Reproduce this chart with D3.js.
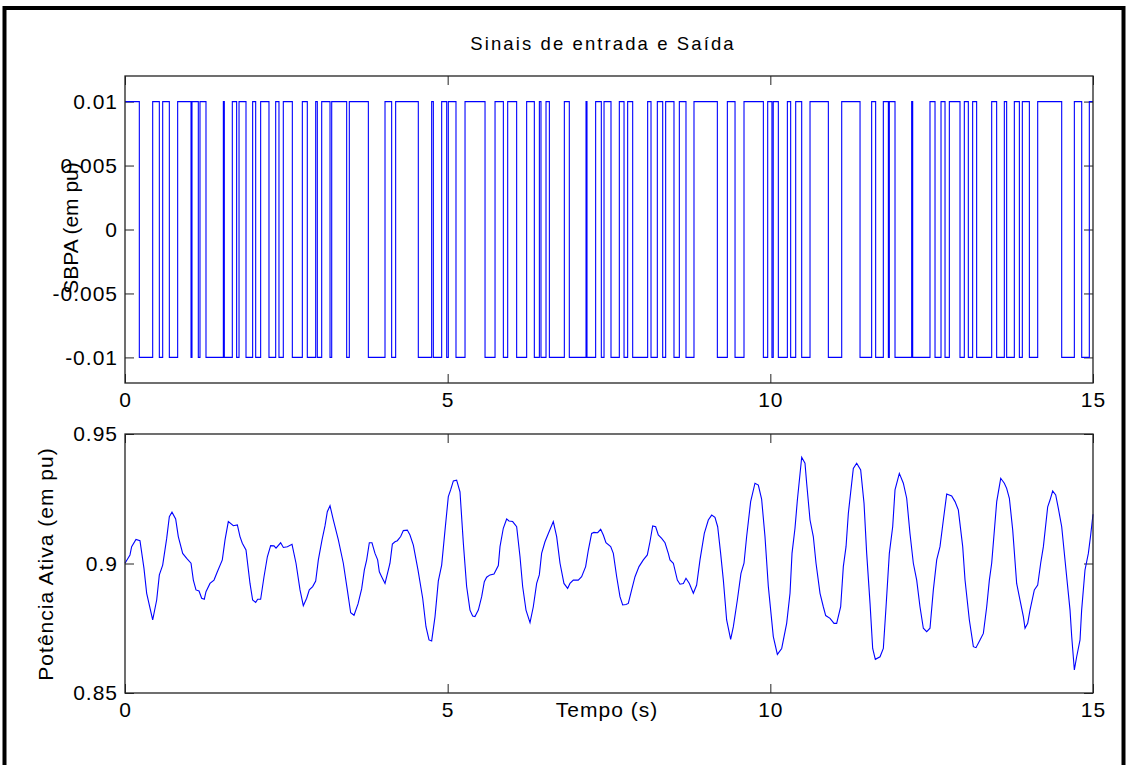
<!DOCTYPE html>
<html>
<head>
<meta charset="utf-8">
<script src="https://cdn.jsdelivr.net/npm/d3@7"></script>
<style>
	body { margin: 0; background: #fff; }
	svg { display: block; font-family: "Liberation Sans", Arial, sans-serif; }
	.tick text { font-size: 21px; fill: #000; letter-spacing: 1px; }
	.tick line { stroke: #222; }
</style>
</head>
<body>
<div id="chart"></div>
<script>

// ---- data ----
let timeTicks = [0, 5, 10, 15]
let sbpaTicks = [-0.01, -0.005, 0, 0.005, 0.01]
let potTicks = [0.85, 0.9, 0.95]

// SBPA starts at +0.01 and flips sign at each of these instants (s)
let sbpaStart = 0.01
let sbpaSwitch = [0.222, 0.429, 0.532, 0.584, 0.687, 0.816, 1.023, 1.038, 1.136, 1.162,
	1.255, 1.524, 1.539, 1.663, 1.730, 1.767, 1.875, 1.978, 2.025, 2.102,
	2.231, 2.335, 2.386, 2.453, 2.593, 2.748, 2.825, 2.955, 2.980, 3.048,
	3.177, 3.203, 3.435, 3.476, 3.771, 4.029, 4.132, 4.194, 4.545, 4.752,
	4.778, 4.907, 4.985, 5.010, 5.129, 5.269, 5.579, 5.734, 5.863, 5.930,
	6.069, 6.224, 6.343, 6.421, 6.446, 6.524, 6.576, 6.808, 6.885, 7.144,
	7.159, 7.293, 7.381, 7.423, 7.531, 7.660, 7.733, 7.789, 7.867, 8.099,
	8.151, 8.249, 8.332, 8.378, 8.507, 8.590, 8.693, 8.817, 9.179, 9.334,
	9.453, 9.592, 9.892, 9.959, 10.025, 10.045, 10.124, 10.264, 10.315, 10.393,
	10.486, 10.615, 10.899, 11.106, 11.390, 11.570, 11.632, 11.751, 11.829, 11.844,
	11.932, 12.190, 12.206, 12.474, 12.552, 12.645, 12.707, 12.774, 12.939, 13.006,
	13.068, 13.135, 13.197, 13.430, 13.507, 13.626, 13.662, 13.781, 13.859, 13.905,
	14.014, 14.143, 14.515, 14.711, 14.825, 14.943]

let potTime = [0, 0.077, 0.103, 0.170, 0.232, 0.294, 0.336, 0.429, 0.491, 0.532,
	0.584, 0.646, 0.687, 0.728, 0.785, 0.826, 0.894, 0.956, 1.023, 1.059,
	1.100, 1.147, 1.188, 1.229, 1.255, 1.317, 1.379, 1.431, 1.508, 1.550,
	1.601, 1.679, 1.741, 1.782, 1.818, 1.875, 1.937, 1.978, 2.025, 2.056,
	2.102, 2.154, 2.206, 2.257, 2.309, 2.340, 2.412, 2.454, 2.516, 2.588,
	2.650, 2.712, 2.763, 2.815, 2.856, 2.908, 2.955, 2.996, 3.053, 3.099,
	3.135, 3.177, 3.228, 3.306, 3.383, 3.445, 3.497, 3.549, 3.611, 3.667,
	3.709, 3.745, 3.786, 3.827, 3.874, 3.915, 3.941, 3.977, 4.029, 4.081,
	4.106, 4.143, 4.184, 4.220, 4.272, 4.313, 4.375, 4.416, 4.468, 4.540,
	4.613, 4.664, 4.711, 4.752, 4.804, 4.855, 4.907, 4.959,
	5.010, 5.046, 5.088, 5.139, 5.191, 5.243, 5.294, 5.346, 5.387, 5.423,
	5.475, 5.527, 5.568, 5.604, 5.656, 5.718, 5.785, 5.811, 5.862, 5.914,
	5.950, 6.007, 6.069, 6.121, 6.162, 6.214, 6.276, 6.327, 6.379, 6.420,
	6.456, 6.508, 6.560, 6.637, 6.689, 6.741, 6.802, 6.859, 6.895, 6.947,
	7.024, 7.076, 7.138, 7.180, 7.231, 7.267, 7.324, 7.371, 7.412, 7.453,
	7.526, 7.567, 7.619, 7.670, 7.712, 7.763, 7.799, 7.851, 7.903, 7.965,
	8.032, 8.094, 8.135, 8.177, 8.223, 8.264, 8.316, 8.368, 8.419, 8.445,
	8.497, 8.559, 8.600, 8.652, 8.693, 8.745, 8.807, 8.858, 8.910, 8.977,
	9.039, 9.091, 9.142, 9.184, 9.230, 9.272, 9.323, 9.385, 9.427, 9.489,
	9.545, 9.592, 9.633, 9.695, 9.762, 9.814, 9.865, 9.917, 9.969, 10.046,
	10.109, 10.176, 10.253, 10.305, 10.336, 10.382, 10.419, 10.486, 10.537, 10.563,
	10.615, 10.666, 10.708, 10.770, 10.821, 10.858, 10.925, 10.987, 11.028, 11.090,
	11.131, 11.173, 11.209, 11.286, 11.338, 11.400, 11.452, 11.493, 11.545, 11.586,
	11.627, 11.700, 11.751, 11.793, 11.844, 11.896, 11.932, 11.999, 12.061, 12.113,
	12.164, 12.216, 12.268, 12.319, 12.371, 12.423, 12.474, 12.526, 12.578, 12.629,
	12.681, 12.733, 12.810, 12.862, 12.913, 12.981, 13.017, 13.084, 13.146, 13.187,
	13.249, 13.301, 13.353, 13.394, 13.430, 13.508, 13.570, 13.626, 13.662, 13.704,
	13.756, 13.817, 13.869, 13.921, 13.947, 13.988, 14.024, 14.091, 14.143, 14.189,
	14.231, 14.298, 14.334, 14.375, 14.422, 14.463, 14.515, 14.592, 14.644, 14.670,
	14.711, 14.747, 14.799, 14.824, 14.876, 14.928, 14.964, 15.0]

let potValue = [0.9001, 0.9033, 0.9065, 0.9093, 0.9088, 0.8981, 0.8885, 0.8782, 0.8859, 0.8956,
	0.8994, 0.9097, 0.9181, 0.9198, 0.9172, 0.9104, 0.9039, 0.9020, 0.9001, 0.8936,
	0.8898, 0.8894, 0.8866, 0.8862, 0.8891, 0.8923, 0.8936, 0.8968, 0.9014, 0.9091,
	0.9162, 0.9146, 0.9149, 0.9104, 0.9078, 0.9052, 0.8923, 0.8859, 0.8850, 0.8862,
	0.8862, 0.8949, 0.9026, 0.9069, 0.9068, 0.9059, 0.9080, 0.9062, 0.9065, 0.9074,
	0.9001, 0.8898, 0.8837, 0.8866, 0.8898, 0.8911, 0.8932, 0.9014, 0.9091, 0.9145,
	0.9200, 0.9223, 0.9168, 0.9091, 0.9001, 0.8898, 0.8810, 0.8800, 0.8844, 0.8902,
	0.8975, 0.9014, 0.9080, 0.9080, 0.9039, 0.9014, 0.8968, 0.8949, 0.8923, 0.8975,
	0.9001, 0.9075, 0.9084, 0.9088, 0.9104, 0.9127, 0.9129, 0.9110, 0.9071, 0.8975,
	0.8866, 0.8756, 0.8705, 0.8701, 0.8795, 0.8932, 0.8994, 0.9129,
	0.9258, 0.9284, 0.9319, 0.9322, 0.9277, 0.9078, 0.8911, 0.8820, 0.8797, 0.8795,
	0.8820, 0.8872, 0.8930, 0.8947, 0.8956, 0.8959, 0.8992, 0.9065, 0.9136, 0.9172,
	0.9164, 0.9162, 0.9142, 0.9026, 0.8911, 0.8820, 0.8772, 0.8833, 0.8923, 0.8956,
	0.9039, 0.9084, 0.9116, 0.9162, 0.9104, 0.9001, 0.8923, 0.8904, 0.8923, 0.8936,
	0.8936, 0.8949, 0.8988, 0.9052, 0.9116, 0.9120, 0.9119, 0.9132, 0.9110, 0.9080,
	0.9065, 0.9039, 0.8949, 0.8872, 0.8840, 0.8842, 0.8846, 0.8898, 0.8949, 0.8988,
	0.9014, 0.9033, 0.9084, 0.9145, 0.9142, 0.9110, 0.9097, 0.9080, 0.9039, 0.9014,
	0.9001, 0.8936, 0.8920, 0.8923, 0.8943, 0.8923, 0.8885, 0.8917, 0.9014, 0.9116,
	0.9168, 0.9187, 0.9178, 0.9142, 0.9039, 0.8936, 0.8782, 0.8707, 0.8756, 0.8859,
	0.8962, 0.9001, 0.9104, 0.9239, 0.9310, 0.9303, 0.9249, 0.9104, 0.8911, 0.8718,
	0.8649, 0.8672, 0.8769, 0.8885, 0.9039, 0.9136, 0.9245, 0.9410, 0.9387, 0.9310,
	0.9168, 0.9104, 0.9001, 0.8885, 0.8833, 0.8799, 0.8788, 0.8769, 0.8769, 0.8833,
	0.8988, 0.9065, 0.9194, 0.9367, 0.9387, 0.9361, 0.9232, 0.9039, 0.8846, 0.8672,
	0.8630, 0.8640, 0.8672, 0.8833, 0.9039, 0.9142, 0.9284, 0.9348, 0.9310, 0.9252,
	0.9116, 0.9001, 0.8936, 0.8833, 0.8750, 0.8737, 0.8750, 0.8898, 0.9014, 0.9065,
	0.9168, 0.9268, 0.9261, 0.9239, 0.9207, 0.9065, 0.8936, 0.8782, 0.8679, 0.8675,
	0.8705, 0.8730, 0.8833, 0.8936, 0.9001, 0.9239, 0.9329, 0.9310, 0.9290, 0.9252,
	0.9129, 0.8923, 0.8859, 0.8795, 0.8750, 0.8769, 0.8820, 0.8898, 0.8917, 0.9001,
	0.9065, 0.9219, 0.9245, 0.9280, 0.9265, 0.9213, 0.9142, 0.8949, 0.8820, 0.8718,
	0.8589, 0.8640, 0.8705, 0.8820, 0.8975, 0.9039, 0.9110, 0.9190]


class SubPlot {

	constructor(svg, box, yDomain, yTicks, points, curve){
		this.svg = svg
		this.box = box
		this.yDomain = yDomain
		this.yTicks = yTicks
		this.points = points
		this.curve = curve
		this.initVis()
	}

	initVis(){
		let vis = this
		let b = vis.box
		vis.width = b.right - b.left
		vis.height = b.bottom - b.top

		vis.g = vis.svg.append("g")
			.attr("transform", "translate(" + b.left + "," + b.top + ")")

		vis.x = d3.scaleLinear().domain([0, 15]).range([0, vis.width])
		vis.y = d3.scaleLinear().domain(vis.yDomain).range([vis.height, 0])

		vis.g.append("rect")
			.attr("width", vis.width)
			.attr("height", vis.height)
			.attr("fill", "#fff")

		// matlab style ticks: inward, on all four sides
		let fmt = d => String(d)
		vis.g.append("g")
			.attr("transform", "translate(0," + vis.height + ")")
			.call(d3.axisBottom(vis.x).tickValues(timeTicks).tickFormat(fmt).tickSizeInner(-9).tickSizeOuter(0).tickPadding(9))
		vis.g.append("g")
			.call(d3.axisTop(vis.x).tickValues(timeTicks).tickFormat("").tickSizeInner(-9).tickSizeOuter(0))
		vis.g.append("g")
			.call(d3.axisLeft(vis.y).tickValues(vis.yTicks).tickFormat(fmt).tickSizeInner(-9).tickSizeOuter(0).tickPadding(7))
		vis.g.append("g")
			.attr("transform", "translate(" + vis.width + ",0)")
			.call(d3.axisRight(vis.y).tickValues(vis.yTicks).tickFormat("").tickSizeInner(-9).tickSizeOuter(0))
		vis.g.selectAll(".domain").remove()

		vis.line = d3.line()
			.x(d => vis.x(d[0]))
			.y(d => vis.y(d[1]))
			.curve(vis.curve)

		vis.g.append("path")
			.datum(vis.points)
			.attr("fill", "none")
			.attr("stroke", "#0000ff")
			.attr("stroke-width", 1.1)
			.attr("d", vis.line)

		vis.g.append("rect")
			.attr("width", vis.width)
			.attr("height", vis.height)
			.attr("fill", "none")
			.attr("stroke", "#222")
			.attr("stroke-width", 1.3)
	}
}

let svg = d3.select("#chart").append("svg")
	.attr("width", 1128)
	.attr("height", 765)

// figure frame
svg.append("rect")
	.attr("x", 4.5).attr("y", 8)
	.attr("width", 1119).attr("height", 900)
	.attr("fill", "none")
	.attr("stroke", "#000")
	.attr("stroke-width", 4)

// step series for the SBPA input
let sbpaPoints = [[0, sbpaStart]]
let level = sbpaStart
sbpaSwitch.forEach(function(t){
	level = -level
	sbpaPoints.push([t, level])
})
sbpaPoints.push([15, level])

let potPoints = potTime.map((t, i) => [t, potValue[i]])

let sbpaPlot = new SubPlot(svg, {left: 125, right: 1093, top: 76, bottom: 383}, [-0.012, 0.012], sbpaTicks, sbpaPoints, d3.curveStepAfter)
let potPlot = new SubPlot(svg, {left: 125, right: 1093, top: 434, bottom: 693}, [0.85, 0.95], potTicks, potPoints, d3.curveLinear)

svg.append("text")
	.attr("x", 603).attr("y", 50)
	.attr("text-anchor", "middle")
	.style("font-size", "18.5px")
	.style("letter-spacing", "2.1px")
	.text("Sinais de entrada e Saída")

svg.append("text")
	.attr("transform", "translate(78,228) rotate(-90)")
	.attr("text-anchor", "middle")
	.style("font-size", "21px")
	.text("SBPA (em pu)")

svg.append("text")
	.attr("transform", "translate(53,564) rotate(-90)")
	.attr("text-anchor", "middle")
	.style("font-size", "21px")
	.style("letter-spacing", "1px")
	.text("Potência Ativa (em pu)")

svg.append("text")
	.attr("x", 607).attr("y", 717)
	.attr("text-anchor", "middle")
	.style("font-size", "21px")
	.style("letter-spacing", "1px")
	.text("Tempo (s)")

</script>
</body>
</html>
